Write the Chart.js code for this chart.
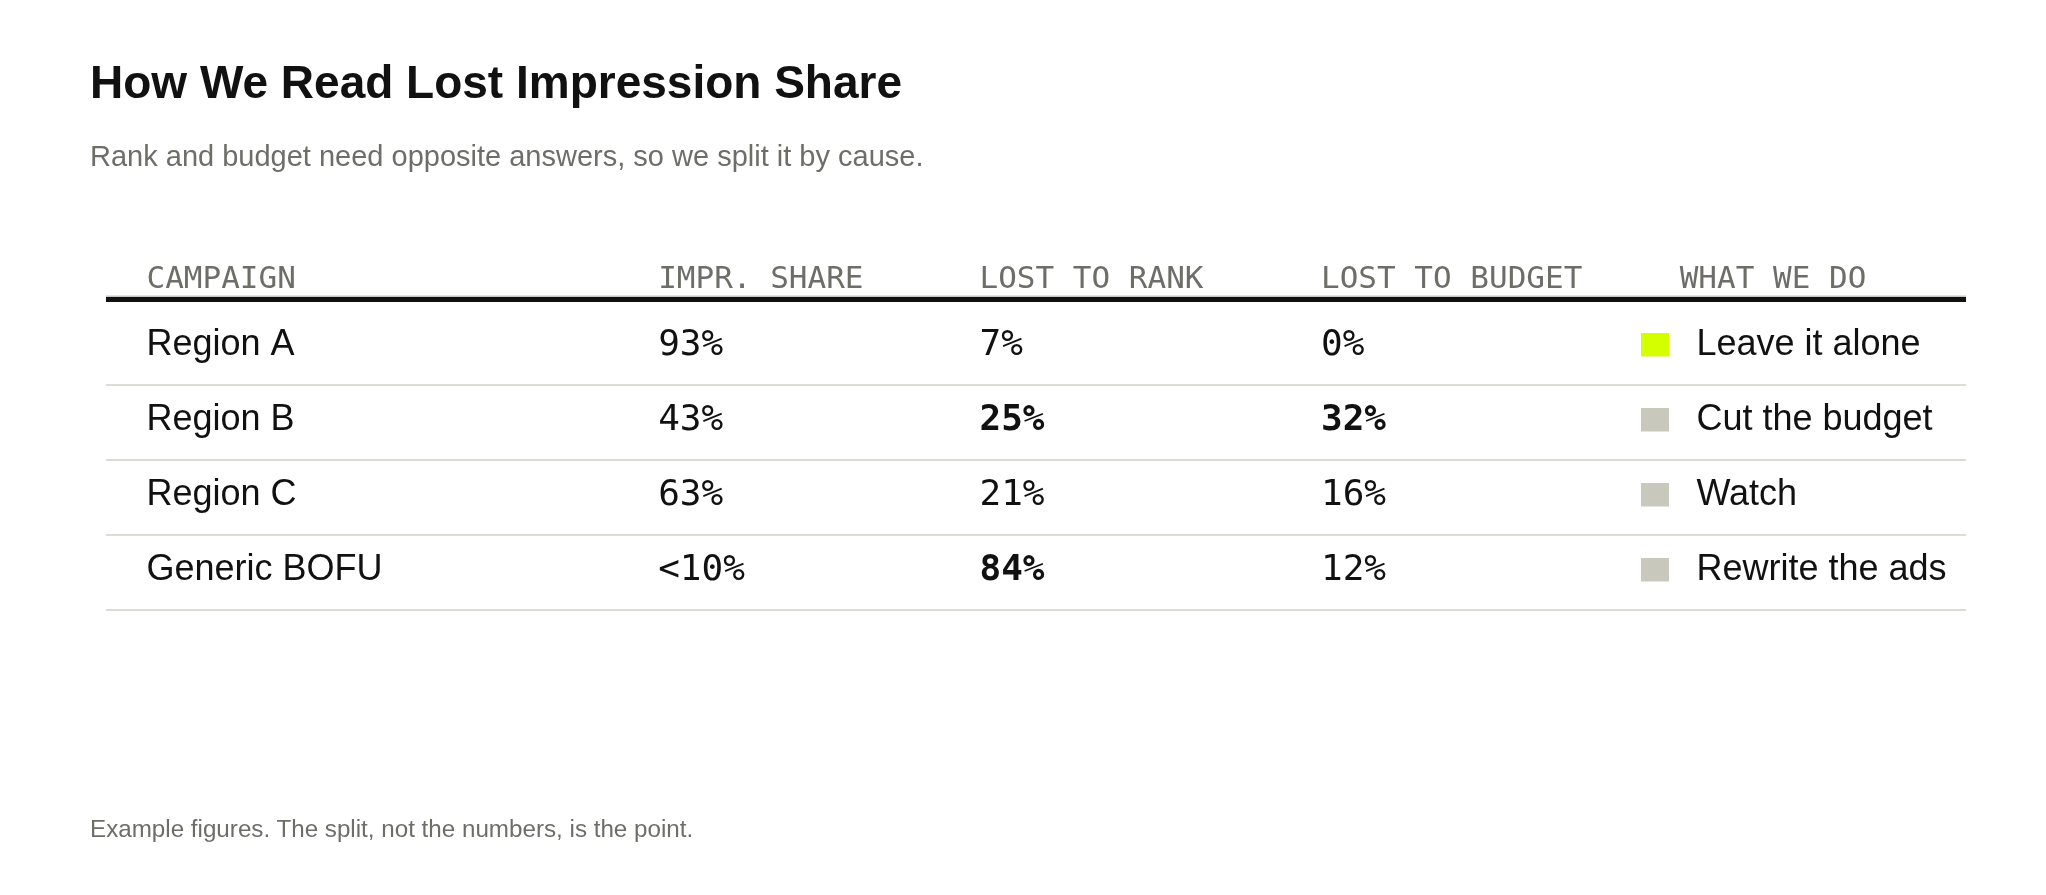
<!DOCTYPE html>
<html>
<head>
<meta charset="utf-8">
<script src="https://cdn.jsdelivr.net/npm/chart.js@4.4.1/dist/chart.umd.min.js"></script>
<style>
  html, body { margin: 0; padding: 0; background: #ffffff; width: 2046px; height: 895px; overflow: hidden; }
  #wrap { position: absolute; left: 0; top: 0; width: 2046px; height: 895px; }
  .t { position: absolute; left: 90px; margin: 0; padding: 0; white-space: nowrap; line-height: 1;
       font-family: "Liberation Sans", Arial, sans-serif; }
  #title { top: 59px; font-size: 46px; font-weight: bold; color: #111111; }
  #sub   { top: 141.5px; font-size: 29px; font-weight: normal; color: #6e6e69; }
  #foot  { top: 817px; font-size: 24.2px; font-weight: normal; color: #6e6e69; }
</style>
</head>
<body>
<div id="wrap"><canvas id="c" width="2046" height="895"></canvas></div>
<h1 class="t" id="title">How We Read Lost Impression Share</h1>
<p class="t" id="sub">Rank and budget need opposite answers, so we split it by cause.</p>
<p class="t" id="foot">Example figures. The split, not the numbers, is the point.</p>

<script>
// ---------------- data ----------------
const columnHeaders = ['CAMPAIGN', 'IMPR. SHARE', 'LOST TO RANK', 'LOST TO BUDGET', 'WHAT WE DO'];
const campaigns     = ['Region A', 'Region B', 'Region C', 'Generic BOFU'];
const imprShare     = [93, 43, 63, 10];
const imprShareBelow = [false, false, false, true];   // shown as "<10%"
const lostToRank    = [7, 25, 21, 84];
const lostToBudget  = [0, 32, 16, 12];
const rankFlagged   = [false, true, false, true];     // bold figures
const budgetFlagged = [false, true, false, false];
const actions       = ['Leave it alone', 'Cut the budget', 'Watch', 'Rewrite the ads'];
const actionKeep    = [true, false, false, false];    // lime marker

// ---------------- layout / style ----------------
const TABLE_W = 1860;                       // table width (x scale range, px)
const HEADER_X = [40.5, 552.2, 873.5, 1215, 1573.7];
const CELL_X   = [40.5, 552.2, 873.5, 1215, 1590.4];
const MARKER_X = 1549;
const COLORS = {
  ink: '#111111', muted: '#6e6e69', rule: '#dcdcd4',
  keep: '#d4ff00', other: '#c8c8bc'
};
const SANS = '"Liberation Sans", Arial, sans-serif';
const MONO = '"DejaVu Sans Mono", monospace';

function markerImage(color) {
  const cv = document.createElement('canvas');
  cv.width = 28; cv.height = 30;
  const c = cv.getContext('2d');
  c.fillStyle = color;
  c.fillRect(0, 0, 28, 24);
  return cv;
}
const keepImg = markerImage(COLORS.keep);
const otherImg = markerImage(COLORS.other);

const pct = v => v + '%';

const tablePlugin = {
  id: 'tableText',
  afterDatasetsDraw(chart) {
    const { ctx, chartArea } = chart;
    const x = chart.scales.x, y = chart.scales.y;
    ctx.save();
    ctx.textAlign = 'left';
    ctx.textBaseline = 'alphabetic';

    // header labels
    ctx.font = '31px ' + MONO;
    ctx.fillStyle = COLORS.muted;
    columnHeaders.forEach((h, i) => {
      ctx.fillText(h, x.getPixelForValue(HEADER_X[i]), chartArea.top - 22.5);
    });

    // header rule
    ctx.fillStyle = '#c9c9c4';
    ctx.fillRect(x.left, chartArea.top - 14.5, x.right - x.left, 1.5);
    ctx.fillStyle = COLORS.ink;
    ctx.fillRect(x.left, chartArea.top - 13, x.right - x.left, 5);

    // body cells
    campaigns.forEach((name, i) => {
      const yb = y.getPixelForValue(i) + 7;
      ctx.fillStyle = COLORS.ink;

      ctx.font = '36px ' + SANS;
      ctx.fillText(name, x.getPixelForValue(CELL_X[0]), yb);

      ctx.font = '36px ' + MONO;
      ctx.fillText((imprShareBelow[i] ? '<' : '') + pct(imprShare[i]), x.getPixelForValue(CELL_X[1]), yb);

      ctx.font = (rankFlagged[i] ? 'bold ' : '') + '36px ' + MONO;
      ctx.fillText(pct(lostToRank[i]), x.getPixelForValue(CELL_X[2]), yb);

      ctx.font = (budgetFlagged[i] ? 'bold ' : '') + '36px ' + MONO;
      ctx.fillText(pct(lostToBudget[i]), x.getPixelForValue(CELL_X[3]), yb);

      ctx.font = '36px ' + SANS;
      ctx.fillText(actions[i], x.getPixelForValue(CELL_X[4]), yb);
    });
    ctx.restore();
  }
};

new Chart(document.getElementById('c'), {
  type: 'scatter',
  data: {
    datasets: [{
      label: 'What we do',
      data: campaigns.map(c => ({ x: MARKER_X, y: c })),
      pointStyle: ctx => (actionKeep[ctx.dataIndex] ? keepImg : otherImg),
      pointRadius: 14,
      pointHoverRadius: 14,
      pointBorderWidth: 0,
      showLine: false
    }]
  },
  options: {
    responsive: false,
    animation: false,
    events: [],
    layout: { padding: { left: 106, right: 80, top: 310, bottom: 285 } },
    plugins: { legend: { display: false }, tooltip: { enabled: false }, title: { display: false } },
    scales: {
      x: { type: 'linear', min: 0, max: TABLE_W, display: false },
      y: {
        type: 'category',
        labels: campaigns,
        offset: true,
        border: { display: false },
        ticks: { display: false },
        grid: {
          offset: true,
          drawTicks: false,
          lineWidth: 2,
          color: ctx => (ctx.index === 0 ? 'rgba(0,0,0,0)' : COLORS.rule)
        }
      }
    }
  },
  plugins: [tablePlugin]
});
</script>
</body>
</html>
